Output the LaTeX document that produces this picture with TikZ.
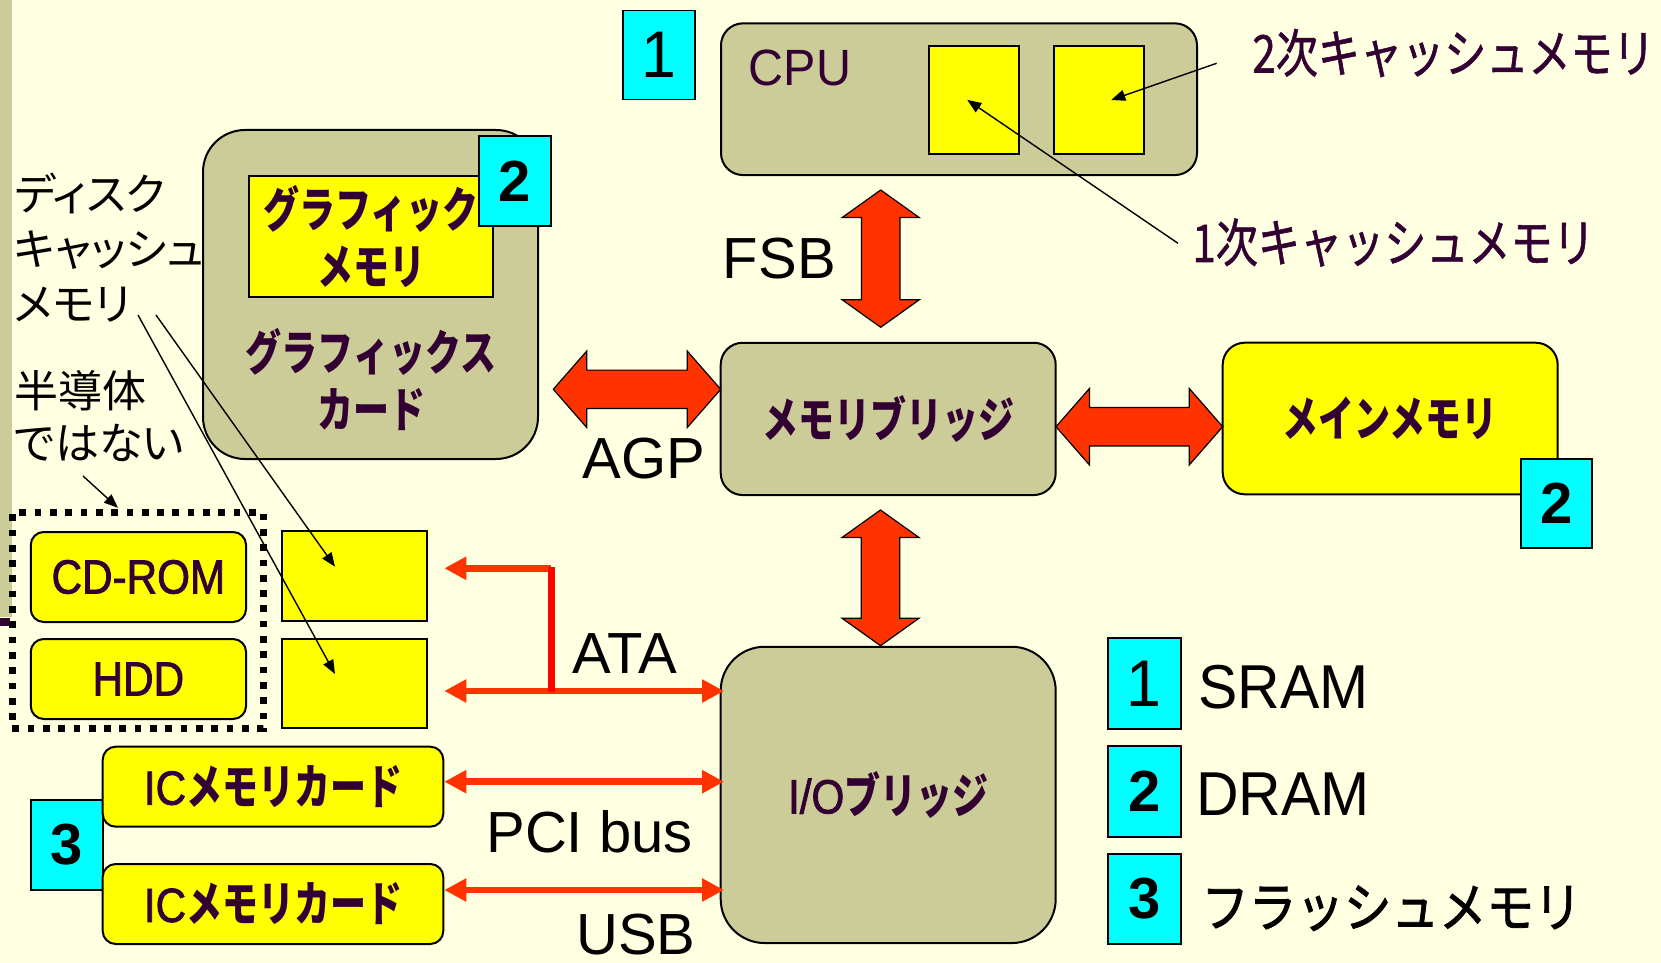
\documentclass[tikz,border=0pt]{standalone}
\usepackage{fontspec}
\usetikzlibrary{arrows.meta}
\setmainfont{Liberation Sans}
\newfontfamily\latnarrow[FakeStretch=0.95]{Liberation Sans}
\newfontfamily\jpreg[RawFeature=+palt]{Noto Sans CJK JP}
\newfontfamily\jpcond[FakeStretch=0.81,FakeBold=1]{Noto Sans CJK JP}
\newfontfamily\jplegend[FakeStretch=0.88,FakeBold=1.5]{Noto Sans CJK JP}
\newfontfamily\jpbox[FakeStretch=0.75]{Noto Sans CJK JP}
\newfontfamily\latbox[FakeStretch=0.88,FakeBold=1.6]{Liberation Sans}

\definecolor{bg}{HTML}{FFFFE1}
\definecolor{beige}{HTML}{CCCC99}
\definecolor{ylw}{HTML}{FFFF00}
\definecolor{cyn}{HTML}{00FFFF}
\definecolor{busred}{HTML}{FF3300}
\definecolor{purp}{HTML}{330033}

% labels inside boxes: condensed bold kana, condensed Latin
\newcommand\kb[1]{{\jpbox\bfseries #1}}
\newcommand\lb[1]{{\latbox #1}}

% vertical double block arrow: centre x, top tip y, bottom tip y
\newcommand\vdarrow[3]{%
  \draw[blockarrow] (#1,#2) -- ++(38.5,27.5) -- ++(-19.3,0) -- ({#1+19.2},{#3-27.5})
    -- ++(19.3,0) -- (#1,#3) -- ++(-38.5,-27.5) -- ++(19.3,0)
    -- ({#1-19.2},{#2+27.5}) -- ++(-19.3,0) -- cycle;}
% horizontal double block arrow: centre y, left tip x, right tip x
\newcommand\hdarrow[3]{%
  \draw[blockarrow] (#2,#1) -- ++(33.5,-38.3) -- ++(0,19.1) -- ({#3-33.5},{#1-19.2})
    -- ++(0,-19.1) -- (#3,#1) -- ++(-33.5,38.3) -- ++(0,-19.1)
    -- ({#2+33.5},{#1+19.2}) -- ++(0,19.1) -- cycle;}

\tikzset{
  wh/.style 2 args={minimum width={#1*0.5pt}, minimum height={#2*0.5pt}},
  box/.style={draw=black, line width=1pt, inner sep=0pt, outer sep=0pt},
  boxlabel/.style={text=purp, align=center, inner sep=0pt,
    font=\fontsize{24pt}{28.5pt}\selectfont},
  tag/.style={draw=black, line width=0.9pt, fill=cyn, inner sep=0pt, outer sep=0pt,
    font=\fontsize{29pt}{29pt}\selectfont\bfseries},
  tagone/.style={tag, font=\fontsize{33pt}{33pt}\selectfont\latnarrow},
  dotbox/.style={draw=black, line width=3.35pt, dash pattern=on 3.35pt off 4.3pt,
    inner sep=0pt},
  note/.style={inner sep=0pt, text=black, font=\fontsize{22pt}{22pt}\selectfont\jpreg},
  cachelbl/.style={inner sep=0pt, text=purp, font=\fontsize{26pt}{26pt}\selectfont\jpcond},
  buslbl/.style={inner sep=0pt, text=black, font=\fontsize{29pt}{29pt}\selectfont},
  legendlbl/.style={inner sep=0pt, text=black, font=\fontsize{31pt}{31pt}\selectfont\latnarrow},
  pointer/.style={draw=black, line width=0.7pt, -{Triangle[length=7pt,width=5.5pt]}},
  blockarrow/.style={fill=busred, draw=black, line width=0.6pt, line join=miter},
  bus/.style={draw=busred, line width=3.3pt},
  bustip/.tip={Triangle[length=11pt,width=11pt]},
}

\begin{document}
\begin{tikzpicture}[x=0.5pt, y=-0.5pt]
\useasboundingbox (0,0) rectangle (1661,963);
\fill[bg] (0,0) rectangle (1661,963);
% slide edge strip
\fill[beige] (0,0) rectangle (11.7,616.7);
\fill[purp] (0,618.3) rectangle (10,626);

% ---- CPU with its two cache memories
\node[box, fill=beige, rounded corners=11pt, wh={476}{151.7}] (cpu) at (959,99.2) {};
\node[box, fill=ylw, wh={90}{108.3}] (l1) at (973.7,99.9) {};
\node[box, fill=ylw, wh={90.6}{108.3}] (l2) at (1099,99.9) {};
\node[anchor=base west, inner sep=0pt, text=purp,
      font=\fontsize{25.5pt}{25.5pt}\selectfont\latnarrow] (cputxt) at (748.5,86) {CPU};
\node[tagone, wh={72}{89}] (t1) at (659,55.1) {1};
\node[cachelbl, anchor=base west] (c2lbl) at (1252,72.5) {2次キャッシュメモリ};
\node[cachelbl, anchor=base west] (c1lbl) at (1192,262) {1次キャッシュメモリ};

% ---- graphics card
\node[box, fill=beige, rounded corners=21pt, wh={335}{329}] (gc) at (370.5,294.5) {};
\node[box, fill=ylw, wh={244}{121}, boxlabel] (gm) at (371,236.5) {\kb{グラフィック}\\\kb{メモリ}};
\node[tag, wh={72}{90}] (tgc) at (515,181) {2};
\node[boxlabel] (gctxt) at (371,380) {\kb{グラフィックス}\\\kb{カード}};

% ---- bridges and main memory
\node[box, fill=beige, rounded corners=11pt, wh={335}{152.3}, boxlabel] (mb) at (888.2,418.9) {\kb{メモリブリッジ}};
\node[box, fill=ylw, rounded corners=11pt, wh={335}{151.6}, boxlabel] (mm) at (1390.2,418.5) {\kb{メインメモリ}};
\node[tag, wh={71}{88.7}] (tmm) at (1556.5,503.7) {2};
\node[box, fill=beige, rounded corners=22pt, wh={335}{296.3}, boxlabel] (io) at (888.2,794.9) {\lb{I/O}\kb{ブリッジ}};

% ---- drives and their caches
\node[dotbox, wh={251}{215.6}] (dots) at (137.8,620.5) {};
\node[box, fill=ylw, rounded corners=6.5pt, wh={215.3}{90}, boxlabel] (cd) at (138.4,577) {\lb{CD-ROM}};
\node[box, fill=ylw, rounded corners=6.5pt, wh={215.3}{80}, boxlabel] (hdd) at (138.4,679) {\lb{HDD}};
\node[box, fill=ylw, wh={145}{90}] (cdc) at (354.2,576) {};
\node[box, fill=ylw, wh={145}{89.3}] (hddc) at (354.2,683.7) {};

% ---- memory cards
\node[tag, wh={72}{90}] (t3) at (66.7,845) {3};
\node[box, fill=ylw, rounded corners=6.5pt, wh={340.6}{80}, boxlabel] (ic1) at (273,786.7) {\lb{IC}\kb{メモリカード}};
\node[box, fill=ylw, rounded corners=6.5pt, wh={340.6}{80}, boxlabel] (ic2) at (273,904) {\lb{IC}\kb{メモリカード}};

% ---- side notes
\node[note, anchor=base west] (n1) at (14,210.4) {ディスク};
\node[note, anchor=base west] (n2) at (14,265.4) {キャッシュ};
\node[note, anchor=base west] (n3) at (14,320.4) {メモリ};
\node[note, anchor=base west] (n4) at (14,407) {半導体};
\node[note, anchor=base west] (n5) at (14,459) {ではない};

% ---- legend
\node[tagone, wh={73}{90.7}] (k1) at (1144.2,683.7) {1};
\node[tag, wh={73}{90.7}] (k2) at (1144.2,791.4) {2};
\node[tag, wh={73}{90}] (k3) at (1144.2,899) {3};
\node[legendlbl, anchor=base west] (sram) at (1198,708.3) {SRAM};
\node[legendlbl, anchor=base west] (dram) at (1196,815) {DRAM};
\node[anchor=base west, inner sep=0pt, text=black,
      font=\fontsize{27pt}{27pt}\selectfont\jplegend] (flash) at (1201,927) {フラッシュメモリ};

% ---- bus names
\node[buslbl, anchor=base west] (fsb) at (722.5,278.3) {FSB};
\node[buslbl, anchor=base west] (agp) at (582.5,478) {AGP};
\node[buslbl, anchor=base west] (ata) at (572.3,673.3) {ATA};
\node[buslbl, anchor=base west] (pci) at (486,852.7) {PCI bus};
\node[buslbl, anchor=base west] (usb) at (576,954) {USB};

% ---- wide buses
\vdarrow{880.7}{190}{327.3}
\vdarrow{880.5}{510}{645.7}
\hdarrow{389.3}{553.3}{720.7}
\hdarrow{426.7}{1056}{1222.7}

% ---- ATA, PCI and USB links
\coordinate (ataB) at (551.3,568.3);
\coordinate (ataU) at ([xshift=8.8pt,yshift=3.85pt]cdc.east);
\coordinate (ataL) at ([xshift=8.8pt,yshift=-3.65pt]hddc.east);
\coordinate (ataR) at (io.west |- ataL);
\draw[bus, -bustip] (ataB) -- (ataU);
\draw[bus, bustip-bustip] (ataL) -- ([xshift=1.65pt]ataR);
\draw[draw=red, line width=3.5pt] ([yshift=0.8pt]ataB) -- ([yshift=-0.65pt]ataB |- ataL);

\coordinate (pciL) at ([xshift=0.5pt,yshift=2.5pt]ic1.east);
\coordinate (pciR) at (io.west |- pciL);
\draw[bus, bustip-bustip] (pciL) -- ([xshift=1.65pt]pciR);
\coordinate (usbL) at ([xshift=0.5pt,yshift=7pt]ic2.east);
\coordinate (usbR) at (io.west |- usbL);
\draw[bus, bustip-bustip] (usbL) -- ([xshift=1.65pt]usbR);

% ---- pointers from the notes
\coordinate (p2s) at (1216.6,63.3);
\coordinate (p1s) at (1178,243.3);
\draw[pointer] (p2s) -- ([xshift=6.1pt,yshift=-0.05pt]l2.center);
\draw[pointer] (p1s) -- ([xshift=-3.2pt]l1.center);
\coordinate (pcs) at (156,315);
\coordinate (phs) at (138,315);
\draw[pointer] (pcs) -- ([xshift=-9.6pt,yshift=4.65pt]cdc.center);
\draw[pointer] (phs) -- ([xshift=-9.6pt,yshift=4.85pt]hddc.center);
\coordinate (pds) at (83,476);
\draw[pointer] (pds) -- ([xshift=-9.9pt,yshift=0.75pt]dots.north);
\end{tikzpicture}
\end{document}
